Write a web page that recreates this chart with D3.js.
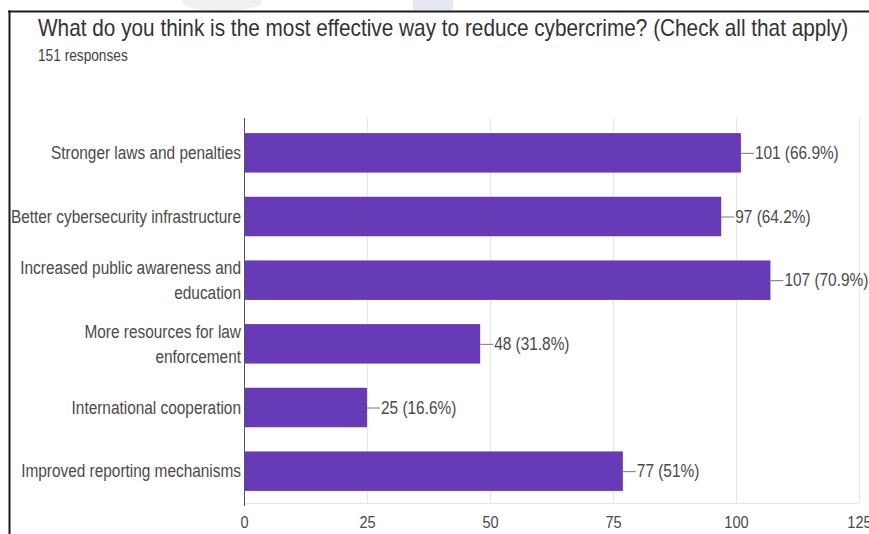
<!DOCTYPE html>
<html>
<head>
<meta charset="utf-8">
<script src="https://cdn.jsdelivr.net/npm/d3@7"></script>
<style>
  body { margin: 0; background: #fff; }
  svg { display: block; }
  text { font-family: "Liberation Sans", Arial, Helvetica, sans-serif; }
</style>
</head>
<body>
<svg id="chart" width="869" height="534"></svg>
<script>
// Survey question and response count
const title = "What do you think is the most effective way to reduce cybercrime? (Check all that apply)";
const subtitle = "151 responses";

// Answer options (each inner array = wrapped label lines)
const categories = [
  ["Stronger laws and penalties"],
  ["Better cybersecurity infrastructure"],
  ["Increased public awareness and", "education"],
  ["More resources for law", "enforcement"],
  ["International cooperation"],
  ["Improved reporting mechanisms"]
];
// Number of respondents choosing each option
const counts = [101, 97, 107, 48, 25, 77];
// Share of respondents, as printed beside each bar
const percents = ["66.9%", "64.2%", "70.9%", "31.8%", "16.6%", "51%"];
// Horizontal axis ticks
const ticks = [0, 25, 50, 75, 100, 125];

const svg = d3.select("#chart");
const W = 869, H = 534;
const SQUEEZE = 0.855;   // narrow text rendering

function squeeze(sel, k) {
  sel.each(function () {
    const w = this.getComputedTextLength();
    this.setAttribute("textLength", w * k);
    this.setAttribute("lengthAdjust", "spacingAndGlyphs");
  });
}

svg.append("rect").attr("width", W).attr("height", H).attr("fill", "#fff");

// Faint page watermark fragments above the card
svg.append("ellipse").attr("cx", 222).attr("cy", 2).attr("rx", 40).attr("ry", 9)
  .attr("fill", "#f0f0f0");
svg.append("rect").attr("x", 413).attr("y", 0).attr("width", 40).attr("height", 10)
  .attr("fill", "#e6e9f1");

// Card frame (top and left edges)
svg.append("line").attr("x1", 8).attr("x2", W).attr("y1", 11.5).attr("y2", 11.5)
  .attr("stroke", "#1a1a1a").attr("stroke-width", 2);
svg.append("line").attr("x1", 9.5).attr("x2", 9.5).attr("y1", 10.5).attr("y2", H)
  .attr("stroke", "#1a1a1a").attr("stroke-width", 2);

// Heading, narrowed horizontally to fit the card width
const titleG = svg.append("g");
const titleText = titleG.append("text")
  .attr("x", 0).attr("y", 0)
  .attr("font-size", 23).attr("fill", "#333")
  .text(title);
const titleW = titleText.node().getComputedTextLength();
titleG.attr("transform", `translate(38,36) scale(${811 / titleW},1)`);

svg.append("text")
  .attr("x", 38).attr("y", 61)
  .attr("font-size", 16).attr("fill", "#444")
  .text(subtitle)
  .call(squeeze, SQUEEZE);

// Scales
const x = d3.scaleLinear().domain([0, 125]).range([244, 859]);
const y = d3.scaleBand().domain(d3.range(categories.length))
  .range([121, 503]).paddingInner(0.38).paddingOuter(0.19);

const plotTop = 118, plotBottom = 503;

// Vertical gridlines
svg.append("g").selectAll("line")
  .data(ticks.filter(t => t > 0))
  .join("line")
  .attr("x1", d => Math.round(x(d)) + 0.5).attr("x2", d => Math.round(x(d)) + 0.5)
  .attr("y1", plotTop).attr("y2", plotBottom)
  .attr("stroke", "#e6e6e6");

// Baseline gridline
svg.append("line")
  .attr("x1", x(0)).attr("x2", x(125))
  .attr("y1", plotBottom + 0.5).attr("y2", plotBottom + 0.5)
  .attr("stroke", "#e6e6e6");

// Bars
svg.append("g").selectAll("rect")
  .data(counts)
  .join("rect")
  .attr("x", x(0))
  .attr("y", (d, i) => y(i))
  .attr("width", d => x(d) - x(0))
  .attr("height", y.bandwidth())
  .attr("fill", "#673ab7");

// Zero axis line
svg.append("line")
  .attr("x1", x(0) + 0.5).attr("x2", x(0) + 0.5)
  .attr("y1", plotTop).attr("y2", plotBottom + 3)
  .attr("stroke", "#555");

// Category labels
const labelG = svg.append("g");
categories.forEach((lines, i) => {
  const cy = y(i) + y.bandwidth() / 2;
  const lh = 25;
  lines.forEach((ln, j) => {
    const off = (j - (lines.length - 1) / 2) * lh;
    labelG.append("text")
      .attr("x", x(0) - 3)
      .attr("y", cy + off)
      .attr("dy", "0.35em")
      .attr("text-anchor", "end")
      .attr("font-size", 18)
      .attr("fill", "#4a4a4a")
      .text(ln)
      .call(squeeze, SQUEEZE);
  });
});

// Value annotations with stems
const ann = svg.append("g");
counts.forEach((v, i) => {
  const cy = y(i) + y.bandwidth() / 2;
  ann.append("line")
    .attr("x1", x(v)).attr("x2", x(v) + 13)
    .attr("y1", cy + 0.5).attr("y2", cy + 0.5)
    .attr("stroke", "#777");
  ann.append("text")
    .attr("x", x(v) + 14)
    .attr("y", cy)
    .attr("dy", "0.35em")
    .attr("font-size", 18)
    .attr("fill", "#4a4a4a")
    .text(`${v} (${percents[i]})`)
    .call(squeeze, SQUEEZE);
});

// Bottom axis labels
const axis = svg.append("g")
  .attr("transform", `translate(0,${plotBottom})`)
  .call(d3.axisBottom(x).tickValues(ticks).tickSize(0).tickPadding(13).tickFormat(d3.format("d")));
axis.select(".domain").remove();
axis.selectAll("text")
  .attr("font-size", 17)
  .attr("font-family", null)
  .attr("fill", "#4a4a4a")
  .call(squeeze, SQUEEZE);
</script>
</body>
</html>
